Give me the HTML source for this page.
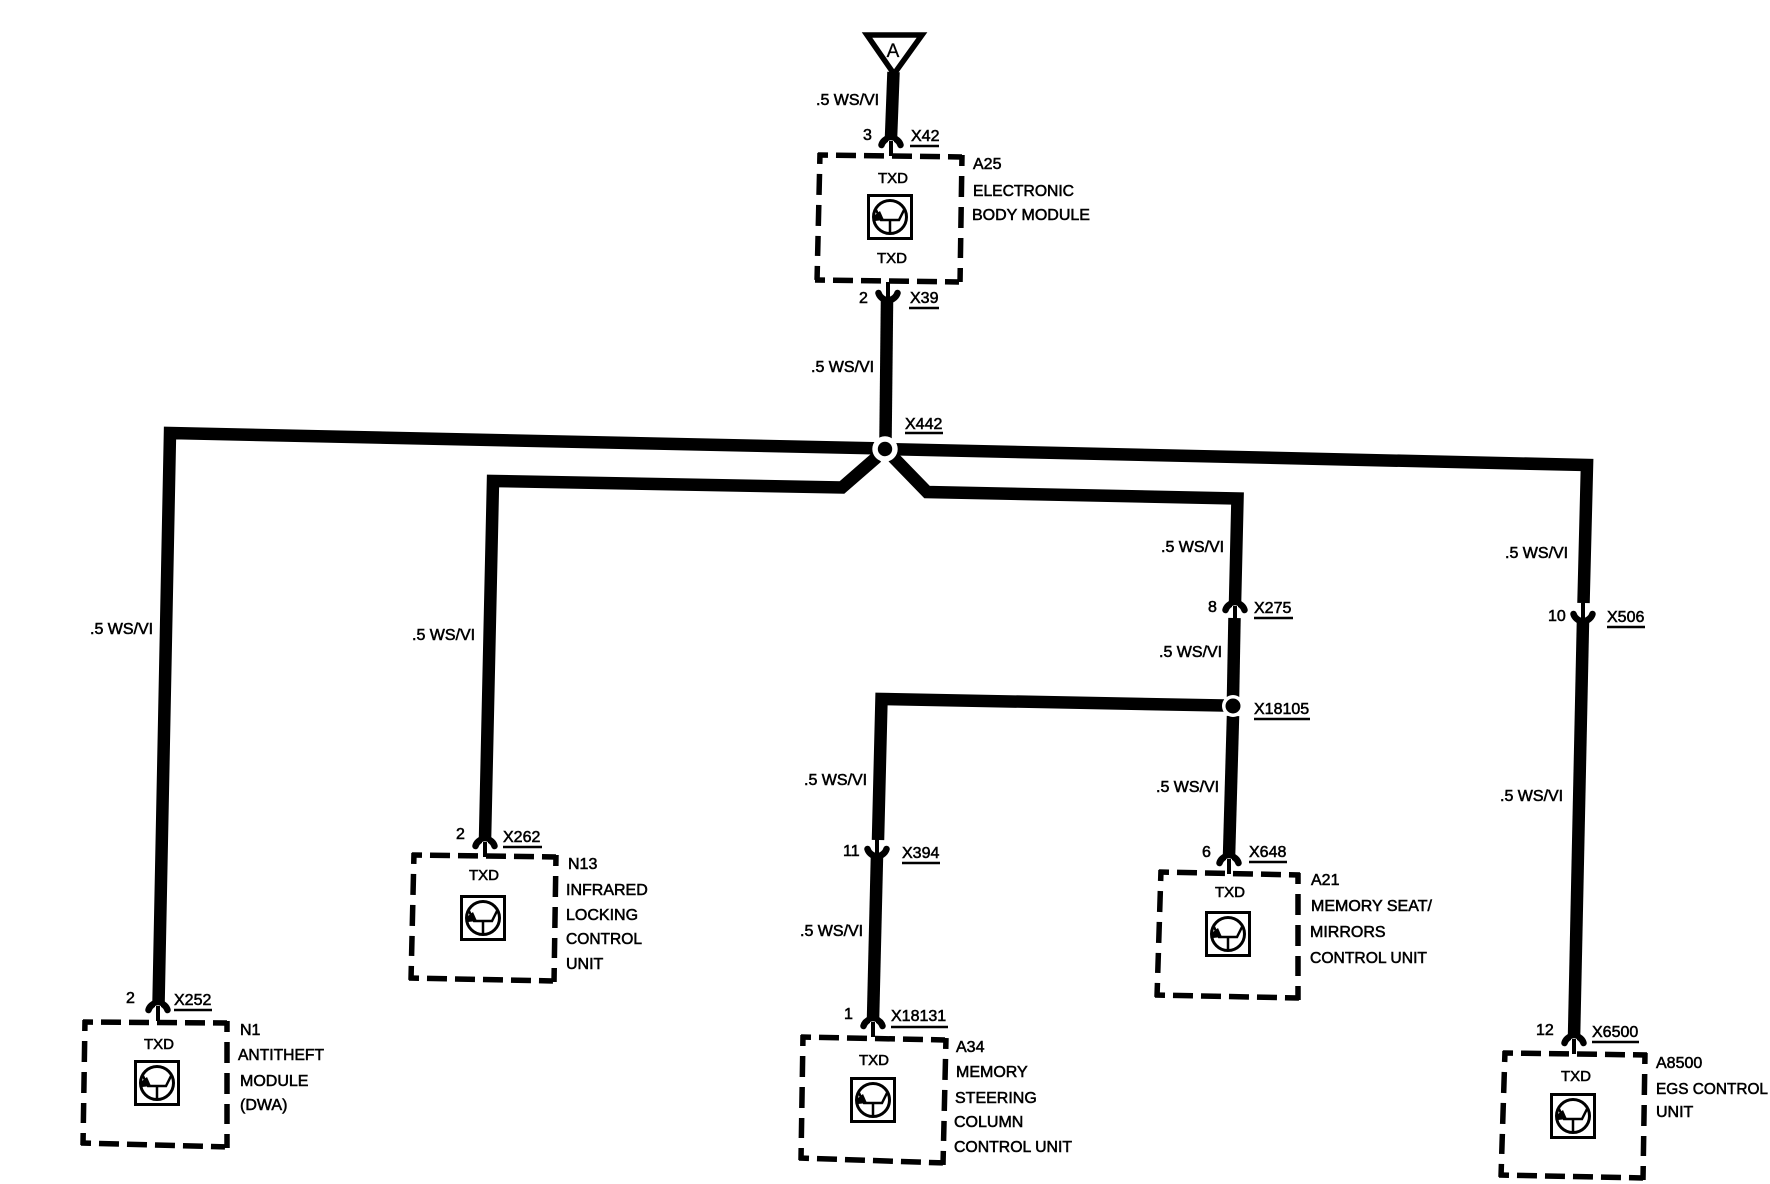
<!DOCTYPE html>
<html><head><meta charset="utf-8"><title>Wiring diagram</title>
<style>
html,body{margin:0;padding:0;background:#fff}
svg{display:block}
text{font-family:"Liberation Sans",sans-serif;font-size:16px;fill:#000;stroke:#000;stroke-width:.55px}
.t{text-anchor:middle;font-size:15px}
.w{fill:none;stroke:#000;stroke-width:12.5;stroke-linejoin:miter}
.u{stroke:#000;stroke-width:2.4}
.h{fill:none;stroke:#000;stroke-width:5.5;stroke-dasharray:10 8 20 8 20 8 20 8 20 8 14}
.v{fill:none;stroke:#000;stroke-width:5.5;stroke-dasharray:11 10 21 10 21 10 20 10 14}
</style></head><body>
<svg width="1770" height="1184" viewBox="0 0 1770 1184" xmlns="http://www.w3.org/2000/svg">
<defs>
<g id="arch"><path d="M-9.5,8 Q-8,2.5 0,0 Q8,2.5 9.5,8" fill="none" stroke="#000" stroke-width="6.5" stroke-linecap="round"/><path d="M-3,4 Q0,2.5 3,4 L3,8 L-3,8Z" fill="#fff"/><path d="M0,4 V19" stroke="#000" stroke-width="4"/></g>
<g id="cup"><path d="M-9.5,-8 Q-8,-2.5 0,0 Q8,-2.5 9.5,-8" fill="none" stroke="#000" stroke-width="6.5" stroke-linecap="round"/><path d="M0,-3 V-19" stroke="#000" stroke-width="4"/></g>
<g id="icon"><rect x="-21.5" y="-21.5" width="43" height="43" fill="#fff" stroke="#000" stroke-width="3"/><circle cx="0" cy="0" r="16.5" fill="none" stroke="#000" stroke-width="3"/><path d="M-14,-7 L-9,3 H9 L14,-7 M0,3 V16" fill="none" stroke="#000" stroke-width="2.5"/><path d="M-15,-2 L-10,-6 L-6,3 L-15,4Z"/></g>
</defs>

<!-- connector triangle -->
<path d="M867,35 H922 L894,74Z" fill="#fff" stroke="#000" stroke-width="5.5"/>
<text x="893" y="57" style="text-anchor:middle;font-size:19px;stroke-width:.3px">A</text>

<!-- wires -->
<path class="w" d="M893.5,72 L891,138"/>
<path class="w" d="M887,301 L885.5,440"/>
<path class="w" d="M885,448.5 L170,433 L158.5,1005"/>
<path class="w" d="M885,449 L1587,465 L1583.5,603"/>
<path class="w" d="M1583,620 L1574,1038"/>
<path class="w" d="M877,457 L842,487.5 L493,481 L485,840"/>
<path class="w" d="M893,457 L927,492 L1237.5,498.5 L1235,604"/>
<path class="w" d="M1234.5,618 L1233,698"/>
<path class="w" d="M1233,716 L1229,857"/>
<path class="w" d="M1224,705.5 L881.5,699 L878,840"/>
<path class="w" d="M877,855 L873,1020"/>

<!-- junctions -->
<circle cx="885" cy="449" r="12.7" fill="#fff"/><circle cx="885" cy="449" r="7.2"/>
<circle cx="1233" cy="706" r="11" fill="#fff"/><circle cx="1233" cy="706" r="7.5"/>

<!-- connector forks -->
<use href="#arch" x="891" y="137"/>
<use href="#cup" x="888" y="301"/>
<use href="#arch" x="1235" y="602"/>
<use href="#cup" x="877" y="857"/>
<use href="#cup" x="1583" y="622"/>
<use href="#arch" x="158" y="1002"/>
<use href="#arch" x="485" y="838"/>
<use href="#arch" x="873" y="1018"/>
<use href="#arch" x="1229" y="855"/>
<use href="#arch" x="1574" y="1035"/>

<!-- boxes -->
<path class="h" d="M818,155 L964,157 M815,280 L962,282"/><path class="v" d="M820,153 L817,282 M962,155 L960,284"/>
<path class="h" d="M83,1022 L229,1023 M81,1143 L229,1147"/><path class="v" d="M85,1020 L83,1145 M227,1021 L227,1149"/>
<path class="h" d="M412,855 L558,857 M409,978 L556,981"/><path class="v" d="M414,853 L411,980 M556,855 L554,983"/>
<path class="h" d="M801,1037 L948,1040 M799,1158 L945,1163"/><path class="v" d="M803,1035 L801,1160 M946,1038 L943,1165"/>
<path class="h" d="M1159,872 L1300,875 M1155,995 L1300,998"/><path class="v" d="M1161,870 L1157,997 M1298,873 L1298,1000"/>
<path class="h" d="M1503,1053 L1647,1055 M1499,1175 L1645,1178"/><path class="v" d="M1505,1051 L1501,1177 M1645,1053 L1643,1180"/>

<!-- transistor icons -->
<use href="#icon" x="890" y="217"/>
<use href="#icon" x="157" y="1083"/>
<use href="#icon" x="483" y="918"/>
<use href="#icon" x="873" y="1100"/>
<use href="#icon" x="1228" y="934"/>
<use href="#icon" x="1573" y="1116"/>

<!-- wire labels -->
<text x="816" y="105">.5 WS/VI</text>
<text x="811" y="372">.5 WS/VI</text>
<text x="90" y="634">.5 WS/VI</text>
<text x="412" y="640">.5 WS/VI</text>
<text x="1161" y="552">.5 WS/VI</text>
<text x="1159" y="657">.5 WS/VI</text>
<text x="1156" y="792">.5 WS/VI</text>
<text x="804" y="785">.5 WS/VI</text>
<text x="800" y="936">.5 WS/VI</text>
<text x="1505" y="558">.5 WS/VI</text>
<text x="1500" y="801">.5 WS/VI</text>

<!-- pins -->
<text x="863" y="140">3</text>
<text x="859" y="303">2</text>
<text x="1208" y="612">8</text>
<text x="1202" y="857">6</text>
<text x="843" y="856">11</text>
<text x="844" y="1019">1</text>
<text x="456" y="839">2</text>
<text x="126" y="1003">2</text>
<text x="1536" y="1035">12</text>
<text x="1548" y="621">10</text>

<!-- connector names -->
<text x="911" y="141">X42</text><line class="u" x1="910" y1="146" x2="939" y2="146"/>
<text x="910" y="303">X39</text><line class="u" x1="909" y1="308" x2="939" y2="308"/>
<text x="905" y="429">X442</text><line class="u" x1="905" y1="433" x2="943" y2="433"/>
<text x="1254" y="613">X275</text><line class="u" x1="1254" y1="618" x2="1293" y2="618"/>
<text x="1254" y="714">X18105</text><line class="u" x1="1254" y1="719" x2="1310" y2="719"/>
<text x="1249" y="857">X648</text><line class="u" x1="1249" y1="862" x2="1287" y2="862"/>
<text x="902" y="858">X394</text><line class="u" x1="902" y1="863" x2="940" y2="863"/>
<text x="891" y="1021">X18131</text><line class="u" x1="891" y1="1027" x2="948" y2="1027"/>
<text x="503" y="842">X262</text><line class="u" x1="503" y1="847" x2="542" y2="847"/>
<text x="174" y="1005">X252</text><line class="u" x1="174" y1="1010" x2="212" y2="1010"/>
<text x="1592" y="1037">X6500</text><line class="u" x1="1592" y1="1042" x2="1639" y2="1042"/>
<text x="1607" y="622">X506</text><line class="u" x1="1607" y1="627" x2="1645" y2="627"/>

<!-- TXD -->
<text class="t" x="893" y="183">TXD</text>
<text class="t" x="892" y="263">TXD</text>
<text class="t" x="159" y="1049">TXD</text>
<text class="t" x="484" y="880">TXD</text>
<text class="t" x="874" y="1065">TXD</text>
<text class="t" x="1230" y="897">TXD</text>
<text class="t" x="1576" y="1081">TXD</text>

<!-- module names -->
<text x="973" y="169">A25</text>
<text x="973" y="196" textLength="101" lengthAdjust="spacingAndGlyphs">ELECTRONIC</text>
<text x="972" y="220">BODY MODULE</text>

<text x="240" y="1035">N1</text>
<text x="238" y="1060" textLength="86" lengthAdjust="spacingAndGlyphs">ANTITHEFT</text>
<text x="240" y="1086">MODULE</text>
<text x="240" y="1110">(DWA)</text>

<text x="568" y="869">N13</text>
<text x="566" y="895">INFRARED</text>
<text x="566" y="920">LOCKING</text>
<text x="566" y="944" textLength="76" lengthAdjust="spacingAndGlyphs">CONTROL</text>
<text x="566" y="969">UNIT</text>

<text x="956" y="1052">A34</text>
<text x="956" y="1077">MEMORY</text>
<text x="955" y="1103">STEERING</text>
<text x="954" y="1127">COLUMN</text>
<text x="954" y="1152" textLength="118" lengthAdjust="spacingAndGlyphs">CONTROL UNIT</text>

<text x="1311" y="885">A21</text>
<text x="1311" y="911">MEMORY SEAT/</text>
<text x="1310" y="937">MIRRORS</text>
<text x="1310" y="963" textLength="117" lengthAdjust="spacingAndGlyphs">CONTROL UNIT</text>

<text x="1656" y="1068">A8500</text>
<text x="1656" y="1094" textLength="112" lengthAdjust="spacingAndGlyphs">EGS CONTROL</text>
<text x="1656" y="1117">UNIT</text>
</svg>
</body></html>
